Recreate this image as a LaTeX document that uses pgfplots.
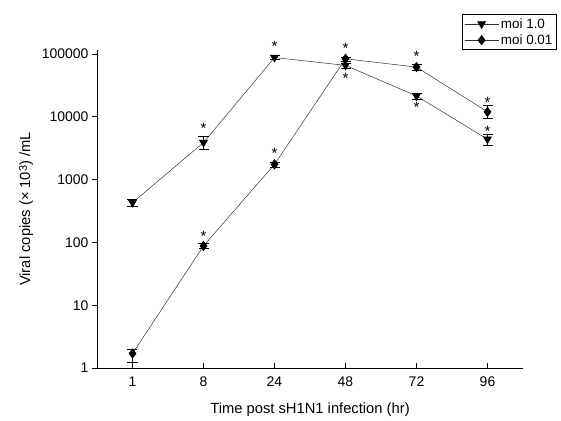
\documentclass[border=0pt]{standalone}
\usepackage{fontspec}
\setmainfont{Liberation Sans}
\usepackage{pgfplots}
\pgfplotsset{compat=1.18}
\begin{document}
\begin{tikzpicture}
\begin{axis}[
  scale only axis, width=426bp, height=318bp,
  xmin=-0.5, xmax=5.5, ymode=log, ymin=1, ymax=1.16e5,
  axis lines=left, axis line style={-, line width=0.8pt},
  xtick={0,...,5}, xticklabels={1,8,24,48,72,96},
  ytick={1,10,100,1000,10000,100000},
  yticklabels={1,10,100,1000,10000,100000},
  yminorticks=false, xminorticks=false,
  tick align=outside, major tick length=5bp,
  tick style={black, line width=0.8pt},
  xtick style={yshift=5bp},
  /pgf/number format/assume math mode=true,
  tick label style={font=\fontsize{14}{16}\selectfont},
  label style={font=\fontsize{14.8}{17}\selectfont},
  xlabel={Time post sH1N1 infection (hr)},
  ylabel={Viral copies (\texttimes{} 10{\fontsize{11}{11}\selectfont\raisebox{0.55ex}{3}}) /mL},
  xlabel shift=10bp, ylabel shift=2bp,
  clip=false,
  legend style={at={(0.857,1.113)}, anchor=north west, draw=black, line width=0.6pt,
    font=\fontsize{13.5}{15}\selectfont, inner sep=2pt, row sep=1pt},
  legend cell align=left,
  legend image code/.code={\draw[mark repeat=2, mark phase=2, #1] plot coordinates {(0cm,0cm) (0.6cm,0cm) (1.2cm,0cm)};},
]
\coordinate (O) at (rel axis cs:0,0);
\addplot[draw=black!80, line width=0.5pt, mark=triangle*, mark size=4.6bp,
  mark options={solid, rotate=180, fill=black, draw=black},
  error bars/.cd, y dir=both, y explicit,
  error bar style={black, line width=0.6pt},
  error mark options={rotate=90, mark size=5bp, line width=0.6pt, black}]
  coordinates {
  (0,430) += (0,50) -= (0,50)
  (1,3900) += (0,1000) -= (0,900)
  (2,88000) += (0,6000) -= (0,6000)
  (3,66000) += (0,6000) -= (0,6000)
  (4,21500) += (0,2500) -= (0,2500)
  (5,4400) += (0,900) -= (0,900)
  };
\addlegendentry{moi 1.0}
\addplot[draw=black!80, line width=0.5pt, mark=diamond*, mark size=4.8bp,
  mark options={solid, fill=black, draw=black},
  error bars/.cd, y dir=both, y explicit,
  error bar style={black, line width=0.6pt},
  error mark options={rotate=90, mark size=5bp, line width=0.6pt, black}]
  coordinates {
  (0,1.7) += (0,0.25) -= (0,0.45)
  (1,88) += (0,8) -= (0,8)
  (2,1750) += (0,150) -= (0,150)
  (3,84000) += (0,6000) -= (0,6000)
  (4,62000) += (0,6000) -= (0,6000)
  (5,12000) += (0,3000) -= (0,2500)
  };
\addlegendentry{moi 0.01}
\addplot[only marks, mark=text, text mark={\fontsize{15}{15}\selectfont *}, forget plot]
  coordinates {(1,6650) (2,134000) (3,41500) (4,14400) (5,5940)
               (1,126) (2,2660) (3,125000) (4,93000) (5,17300)};
\end{axis}
\pgfresetboundingbox
\path[use as bounding box] ([shift={(-97bp,-53bp)}]O) rectangle ([shift={(464bp,368bp)}]O);
\end{tikzpicture}
\end{document}
